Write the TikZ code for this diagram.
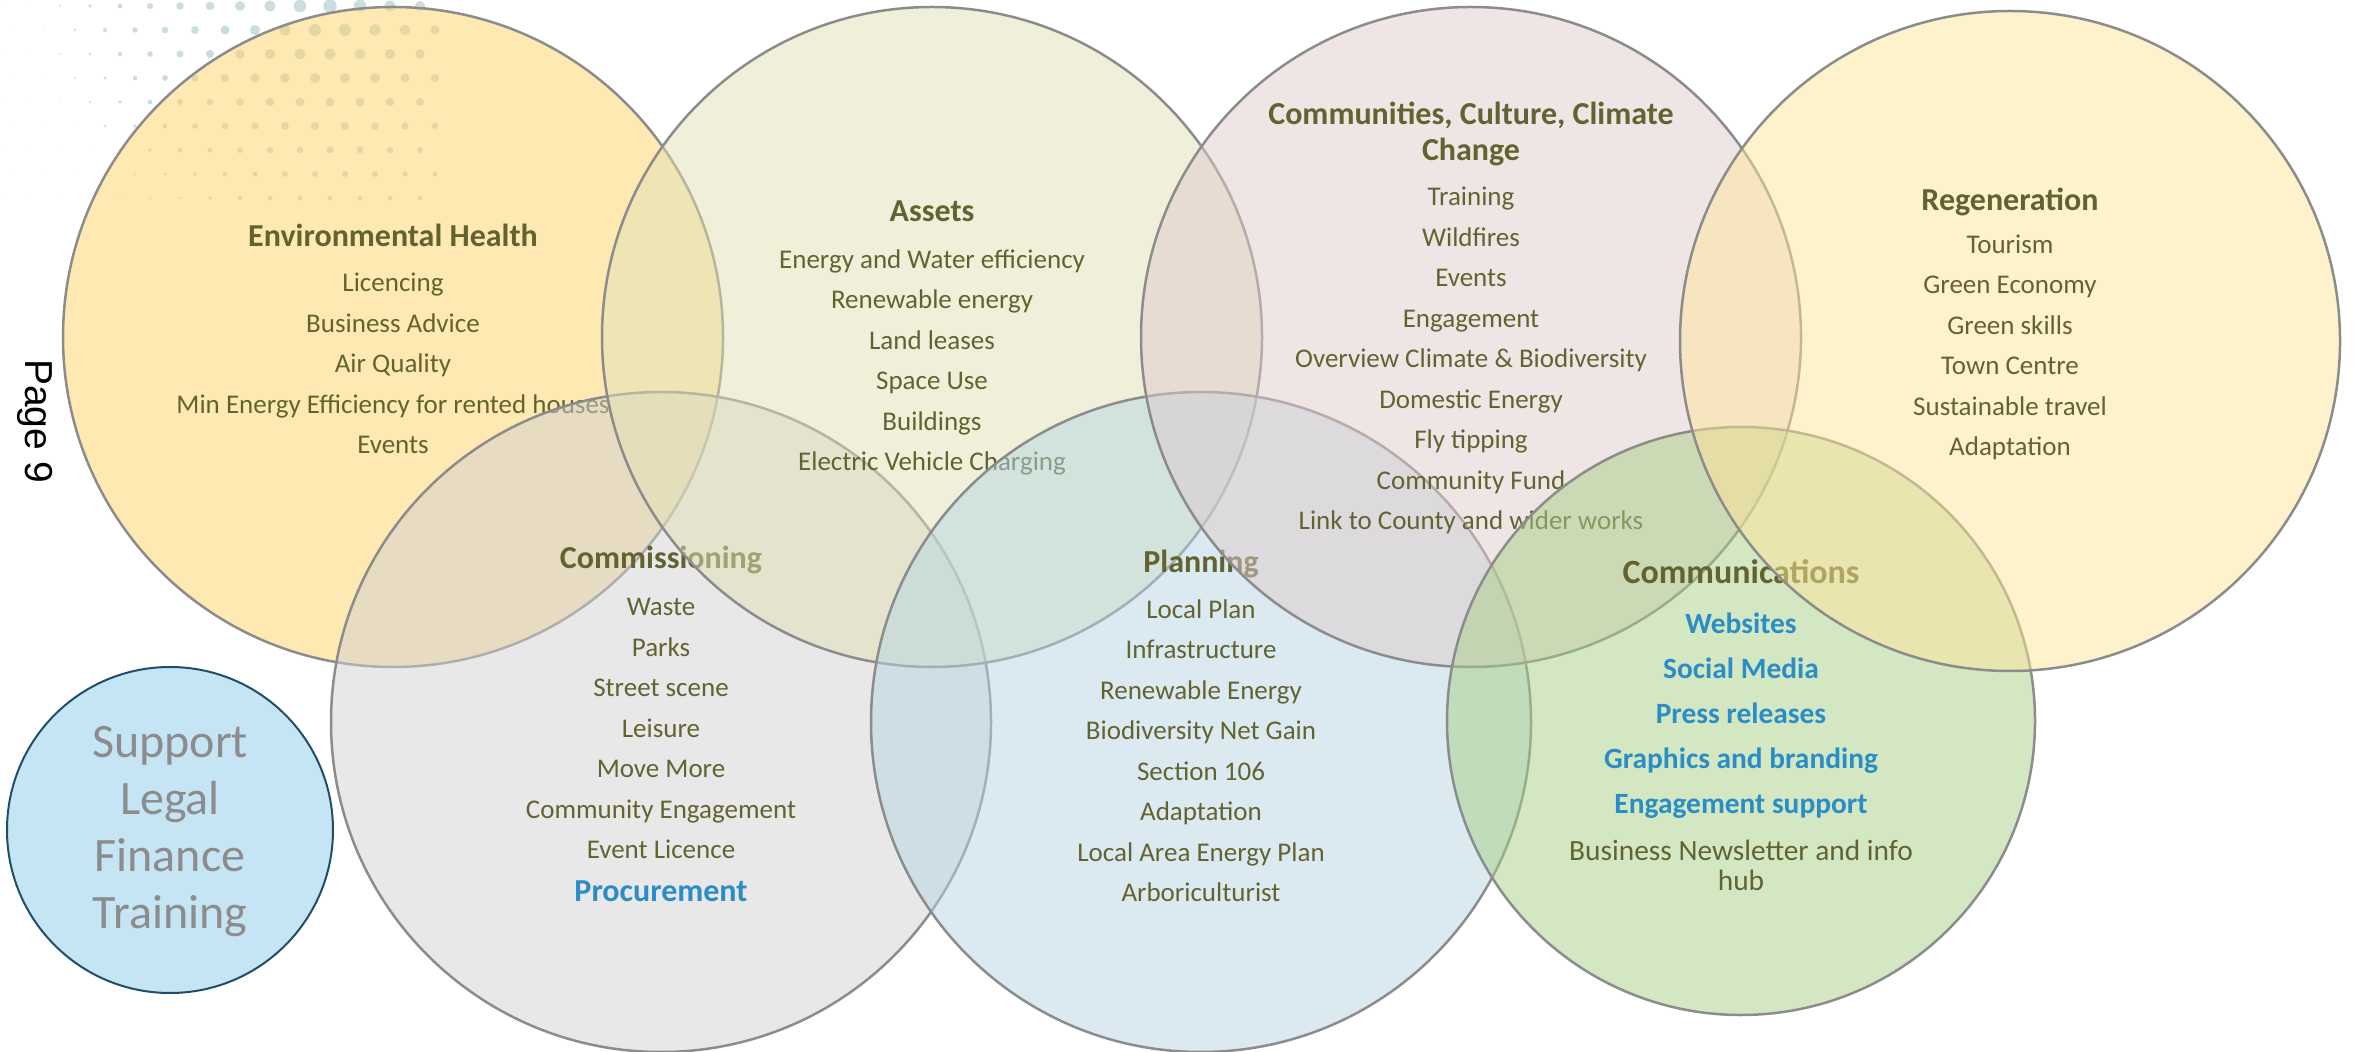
\documentclass[tikz,border=0pt]{standalone}
\usepackage{fontspec}
\setmainfont{Carlito}
\newfontfamily\pagefont{Liberation Sans}
\usepackage{tikz}
\usetikzlibrary{positioning}

\definecolor{ringgray}{RGB}{140,140,140}
\definecolor{olivetext}{RGB}{99,99,49}
\definecolor{linkblue}{RGB}{42,141,198}
\definecolor{dotgray}{RGB}{204,221,221}
\definecolor{envfill}{RGB}{253,211,103}
\definecolor{assetfill}{RGB}{225,223,181}
\definecolor{cccfill}{RGB}{223,203,203}
\definecolor{regenfill}{RGB}{253,229,153}
\definecolor{commfill}{RGB}{209,209,209}
\definecolor{planfill}{RGB}{181,213,225}
\definecolor{commsfill}{RGB}{169,207,135}
\definecolor{supportfill}{RGB}{197,228,244}
\definecolor{supportring}{RGB}{31,78,105}
\definecolor{supporttext}{RGB}{140,140,140}

\newcommand{\hd}[1]{{\fontsize{16}{20.25}\selectfont\bfseries #1}}
\newcommand{\bl}[1]{{\bfseries\color{linkblue}#1}}

\begin{document}
\begin{tikzpicture}[x=0.5pt,y=-0.5pt,
    bubble/.style={circle,draw=ringgray,line width=1.25pt,minimum size=330pt,
                   inner sep=0pt,fill opacity=0.5},
    lbl/.style={align=center,text=olivetext,inner sep=0pt,
                font=\fontsize{13.5}{20.25}\selectfont}]

\useasboundingbox (0,0) rectangle (2354,1052);

% halftone dots, top left
\foreach \i in {0,...,14}{
  \foreach \j in {0,...,8}{
    \pgfmathsetmacro\dx{30*\i+15*mod(\j,2)}
    \pgfmathsetmacro\dy{6+24*\j}
    \pgfmathsetmacro\dr{max(0,7-veclen(\dx-330,\dy+10)/46)}
    \fill[dotgray] (\dx,\dy) circle[radius=\dr];
  }
}

\node[rotate=-90,font=\pagefont\fontsize{19.5}{20}\selectfont] (pagenum) at (35,421) {Page 9};

% environmental health
\node[bubble,fill=envfill] (envh) at (393,337) {};
\node[lbl] (envhtxt) at (393,339) {\hd{Environmental Health}\\[2.25pt]
  Licencing\\Business Advice\\Air Quality\\
  Min Energy Efficiency for rented houses\\Events};

% commissioning
\node[bubble,fill=commfill] (comm) at (661,722) {};
\node[lbl] (commtxt) at (661,724) {\hd{Commissioning}\\[3.5pt]
  Waste\\Parks\\Street scene\\Leisure\\Move More\\Community Engagement\\
  Event Licence\\[1.25pt]{\fontsize{16}{20.25}\selectfont\bl{Procurement}}};

% assets
\node[bubble,fill=assetfill] (assets) at (932,337) {};
\node[lbl] (assetstxt) at (932,338) {\hd{Assets}\\[3.25pt]
  Energy and Water efficiency\\Renewable energy\\Land leases\\Space Use\\
  Buildings\\Electric Vehicle Charging};

% planning
\node[bubble,fill=planfill] (plan) at (1201,722) {};
\node[lbl] (plantxt) at (1201,726) {\hd{Planning}\\[2.75pt]
  Local Plan\\Infrastructure\\Renewable Energy\\Biodiversity Net Gain\\
  Section 106\\Adaptation\\Local Area Energy Plan\\Arboriculturist};

% communities, culture, climate change
\node[bubble,fill=cccfill] (ccc) at (1471,337) {};
\node[lbl] (ccctxt) at (1471,318) {\hd{Communities, Culture, Climate}\\[-2.25pt]
  \hd{Change}\\[2.25pt]
  Training\\Wildfires\\Events\\Engagement\\Overview Climate \& Biodiversity\\
  Domestic Energy\\Fly tipping\\Community Fund\\Link to County and wider works};

% communications
\node[bubble,fill=commsfill,minimum size=294pt] (comms) at (1741,721) {};
\node[lbl,font=\fontsize{14.7}{20.25}\selectfont] (commstxt) at (1741,725)
  {{\fontsize{17}{20.25}\selectfont\bfseries Communications}\\[4.75pt]
  \bl{Websites}\\[2.25pt]\bl{Social Media}\\[2.25pt]\bl{Press releases}\\[2.25pt]
  \bl{Graphics and branding}\\[2.25pt]\bl{Engagement support}\\[3pt]
  Business Newsletter and info\\[-5.25pt]hub};

% regeneration
\node[bubble,fill=regenfill] (regen) at (2010,341) {};
\node[lbl] (regentxt) at (2010,324) {\hd{Regeneration}\\[1.25pt]
  Tourism\\Green Economy\\Green skills\\Town Centre\\Sustainable travel\\Adaptation};

% support
\node[circle,draw=supportring,line width=1pt,fill=supportfill,minimum size=163pt,
      inner sep=0pt] (support) at (170,830) {};
\node[align=center,text=supporttext,font=\fontsize{24}{28.5}\selectfont]
  (supporttxt) at (170,832) {Support\\Legal\\Finance\\Training};

\end{tikzpicture}
\end{document}
